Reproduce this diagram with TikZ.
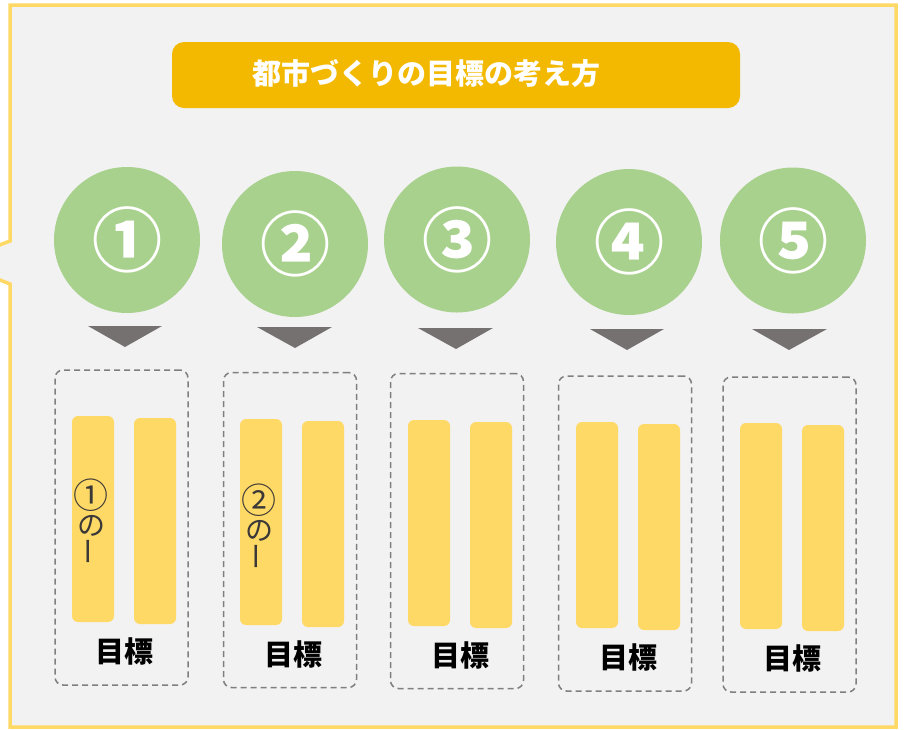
\documentclass[tikz,border=0pt]{standalone}
\usepackage{fontspec}
\newfontfamily\jp{Noto Sans CJK JP}
\usetikzlibrary{positioning}
\definecolor{frameyellow}{HTML}{FFD966}
\definecolor{bggray}{HTML}{F2F2F2}
\definecolor{titleorange}{HTML}{F2B900}
\definecolor{leafgreen}{HTML}{A9D18E}
\definecolor{arrowgray}{HTML}{767171}
\definecolor{dashgray}{HTML}{7F7F7F}
\definecolor{textdark}{HTML}{3B3838}
\tikzset{
  numcircle/.style={circle,fill=leafgreen,minimum size=146,inner sep=0,text=white,font=\jp\bfseries\fontsize{70}{70}\selectfont},
  goalbox/.style={draw=dashgray,line width=1.5pt,dash pattern=on 6pt off 4pt,rounded corners=8,minimum width=133,minimum height=315},
  goalbar/.style={fill=frameyellow,rounded corners=6,minimum width=42,minimum height=206,inner sep=0},
  goallabel/.style={font=\jp\bfseries\fontsize{29}{29}\selectfont,text=black,inner sep=0},
  vlabel/.style={font=\jp\fontsize{28}{27}\selectfont,text=textdark,align=center,inner sep=0}
}
\newcommand\vbar{\rotatebox[origin=c]{-90}{\raisebox{-2.5pt}[0.88em][0.12em]{ー}}}
\newcommand\bignum[1]{{\fontsize{35}{27}\selectfont #1}}
\begin{document}
\begin{tikzpicture}[x=1pt,y=-1pt]
			\useasboundingbox (0,0) rectangle (905,729);
			\fill[white] (0,0) rectangle (905,729);
			\draw[draw=frameyellow,fill=bggray,line width=3.5pt] (10,5)--(896,5)--(896,727)--(10,727)--(10,284)--(-45,262)--(10,241)--cycle;
			\node[fill=titleorange,rounded corners=12,minimum width=568,minimum height=66,inner sep=0] (title) at (456,75) {};
			\node[font=\jp\bfseries\fontsize{29}{29}\selectfont,text=white,inner sep=0] (titletext) at (426.5,73) {都市づくりの目標の考え方};
			\node[numcircle] (c1) at (127,240) {①};
			\node[numcircle] (c2) at (295,244) {②};
			\node[numcircle] (c3) at (457,239.5) {③};
			\node[numcircle] (c4) at (629,242) {④};
			\node[numcircle] (c5) at (793,240.5) {⑤};
			\fill[arrowgray] (88,326)--(162,326)--(125,347)--cycle;
			\fill[arrowgray] (257,327)--(332,327)--(295,348)--cycle;
			\fill[arrowgray] (418,328)--(493,328)--(456,349)--cycle;
			\fill[arrowgray] (590,329)--(664,329)--(627,350)--cycle;
			\fill[arrowgray] (752,329)--(827,329)--(789,350)--cycle;
			\node[goalbox] (g1) at (121.5,527.5) {};
			\node[goalbox] (g2) at (290,530) {};
			\node[goalbox] (g3) at (457,531) {};
			\node[goalbox] (g4) at (625,533.5) {};
			\node[goalbox] (g5) at (789.5,534.5) {};
			\node[goalbar] (b1a) at (93,519) {};
			\node[goalbar] (b1b) at (155,521) {};
			\node[goalbar] (b2a) at (261,522) {};
			\node[goalbar] (b2b) at (323,524) {};
			\node[goalbar] (b3a) at (429,523) {};
			\node[goalbar] (b3b) at (491,525) {};
			\node[goalbar] (b4a) at (597,525) {};
			\node[goalbar] (b4b) at (659,527) {};
			\node[goalbar] (b5a) at (761,526) {};
			\node[goalbar] (b5b) at (823,528) {};
			\node[vlabel] (v1) at (91,522) {\bignum{①}\\の\\\vbar};
			\node[vlabel] (v2) at (259,527) {\bignum{②}\\の\\\vbar};
			\node[goallabel] (l1) at (124.5,651) {目標};
			\node[goallabel] (l2) at (293,654) {目標};
			\node[goallabel] (l3) at (460,655) {目標};
			\node[goallabel] (l4) at (628,657) {目標};
			\node[goallabel] (l5) at (792.5,658) {目標};
		\end{tikzpicture}
\end{document}
